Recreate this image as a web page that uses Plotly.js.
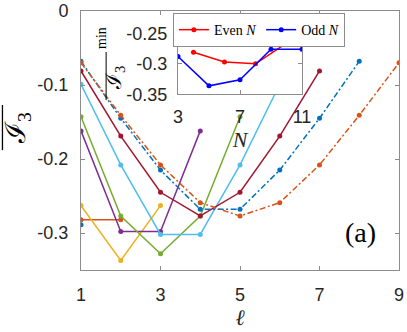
<!DOCTYPE html>
<html>
<head>
<meta charset="utf-8">
<script src="https://cdn.plot.ly/plotly-3.0.1.min.js"></script>
<style>
  html, body { margin: 0; padding: 0; background: #fff; }
  #wrap { position: relative; width: 407px; height: 332px; }
  #chart, #inset { position: absolute; left: 0; top: 0; width: 407px; height: 332px; }
</style>
</head>
<body>
<div id="wrap">
  <div id="chart"></div>
  <div id="inset"></div>
</div>
<script>
// values, l = 1, 2, ...
const ell = [1, 2, 3, 4, 5, 6, 7, 8, 9];
const curveN3  = [-0.289];
const curveN4  = [-0.282, -0.282];
const curveN5  = [-0.263, -0.337, -0.263];
const curveN6  = [-0.162, -0.298, -0.298, -0.162];
const curveN7  = [-0.143, -0.277, -0.328, -0.277, -0.143];
const curveN8  = [-0.099, -0.208, -0.302, -0.302, -0.208, -0.099];
const curveN9  = [-0.081, -0.169, -0.245, -0.277, -0.245, -0.169, -0.081];
const curveN10 = [-0.068, -0.145, -0.215, -0.268, -0.268, -0.215, -0.145, -0.068];
const curveN11 = [-0.070, -0.141, -0.208, -0.259, -0.277, -0.259, -0.208, -0.141, -0.070];

// inset: minimum over l
const evenN = [4, 6, 8, 10];
const evenMin = [-0.281, -0.297, -0.300, -0.266];
const oddN = [3, 5, 7, 9, 11];
const oddMin = [-0.288, -0.336, -0.326, -0.276, -0.276];

const yTickVals = [0, -0.1, -0.2, -0.3];
const yTickText = ['0', '-0.1', '-0.2', '-0.3'];
const insetYVals = [-0.25, -0.3, -0.35];
const insetYText = ['-0.25', '-0.3', '-0.35'];

const matlab = ['#0072BD', '#D95319', '#EDB120', '#7E2F8E', '#77AC30', '#4DBEEE', '#A2142F'];
const curves = [curveN3, curveN4, curveN5, curveN6, curveN7, curveN8, curveN9, curveN10, curveN11];

let traces = curves.map(function (vals, i) {
    return {
        type: 'scatter',
        mode: 'lines+markers',
        x: ell.slice(0, vals.length),
        y: vals,
        showlegend: false,
        line: {color: matlab[i % 7], width: 1.5, dash: i >= 7 ? '6px,2.5px,2px,2.5px' : 'solid'},
        marker: {color: matlab[i % 7], size: 5}
    };
});

let insetTraces = [
    {type: 'scatter', mode: 'lines+markers', name: 'Even <i>N</i>', x: evenN, y: evenMin,
     line: {color: '#FF0000', width: 1.5}, marker: {color: '#FF0000', size: 5}},
    {type: 'scatter', mode: 'lines+markers', name: 'Odd <i>N</i>', x: oddN, y: oddMin,
     line: {color: '#0000FF', width: 1.5}, marker: {color: '#0000FF', size: 5}}
];

const sans = {family: 'Liberation Sans, Arial, sans-serif', size: 18, color: '#262626'};
const serif = 'Liberation Serif';
const margin = {l: 81, r: 8, t: 11, b: 62};

const axisBase = {
    showline: true, linecolor: '#8c8c8c', linewidth: 1, mirror: 'ticks',
    ticks: 'inside', ticklen: 4, tickcolor: '#8c8c8c',
    showgrid: false, zeroline: false, tickfont: sans
};

let layout = {
    width: 407, height: 332, margin: margin,
    paper_bgcolor: '#fff', plot_bgcolor: '#fff',
    showlegend: false,
    xaxis: Object.assign({}, axisBase, {
        range: [1, 9], tickvals: [1, 3, 5, 7, 9], ticklabelstandoff: 8,
        title: {text: '<i>ℓ</i>', font: {family: 'DejaVu Serif', size: 22, color: '#262626'}, standoff: 2}
    }),
    yaxis: Object.assign({}, axisBase, {
        range: [-0.35, 0], tickvals: yTickVals, ticktext: yTickText, ticklabelstandoff: 8
    }),
    annotations: [
        {xref: 'paper', yref: 'paper', x: -0.2, y: 0.55, xanchor: 'center', yanchor: 'middle',
         showarrow: false, textangle: -90,
         text: 'ℐ<sub>3</sub>', font: {family: serif, size: 28, color: '#000'}},
        {xref: 'paper', yref: 'paper', x: 0.88, y: 0.143, xanchor: 'center', yanchor: 'middle',
         showarrow: false, text: '(a)', font: {family: serif, size: 28, color: '#000'}}
    ],
    shapes: [
        // overline of the y title
        {type: 'line', xref: 'paper', yref: 'paper', x0: -0.247, x1: -0.247, y0: 0.463, y1: 0.637,
         line: {color: '#000', width: 1.3}}
    ]
};

let insetLayout = {
    width: 407, height: 332, margin: margin,
    paper_bgcolor: 'rgba(0,0,0,0)', plot_bgcolor: '#fff',
    xaxis: Object.assign({}, axisBase, {
        domain: [0.305, 0.695], range: [3, 11], tickvals: [3, 7, 11], ticklabelstandoff: 6,
        title: {text: '<i>N</i>', font: {family: serif, size: 22, color: '#262626'}, standoff: 4}
    }),
    yaxis: Object.assign({}, axisBase, {
        domain: [0.678, 0.914], range: [-0.35, -0.25],
        tickvals: insetYVals, ticktext: insetYText, ticklabelstandoff: 6
    }),
    legend: {
        orientation: 'h', x: 0.289, y: 0.992, xanchor: 'left', yanchor: 'top',
        bgcolor: '#fff', bordercolor: '#8c8c8c', borderwidth: 1,
        font: {family: serif, size: 14, color: '#000'}, itemwidth: 30, tracegroupgap: 0
    },
    annotations: [
        {xref: 'paper', yref: 'paper', x: 0.107, y: 0.741, xanchor: 'center', yanchor: 'middle',
         showarrow: false, textangle: -90,
         text: 'ℐ<sub>3</sub>', font: {family: serif, size: 21, color: '#000'}},
        {xref: 'paper', yref: 'paper', x: 0.066, y: 0.896, xanchor: 'center', yanchor: 'middle',
         showarrow: false, textangle: -90,
         text: 'min', font: {family: serif, size: 14, color: '#000'}}
    ],
    shapes: [
        {type: 'line', xref: 'paper', yref: 'paper', x0: 0.079, x1: 0.079, y0: 0.656, y1: 0.842,
         line: {color: '#000', width: 1}}
    ]
};

Plotly.newPlot('chart', traces, layout, {displayModeBar: false, staticPlot: true});
Plotly.newPlot('inset', insetTraces, insetLayout, {displayModeBar: false, staticPlot: true});
</script>
</body>
</html>
